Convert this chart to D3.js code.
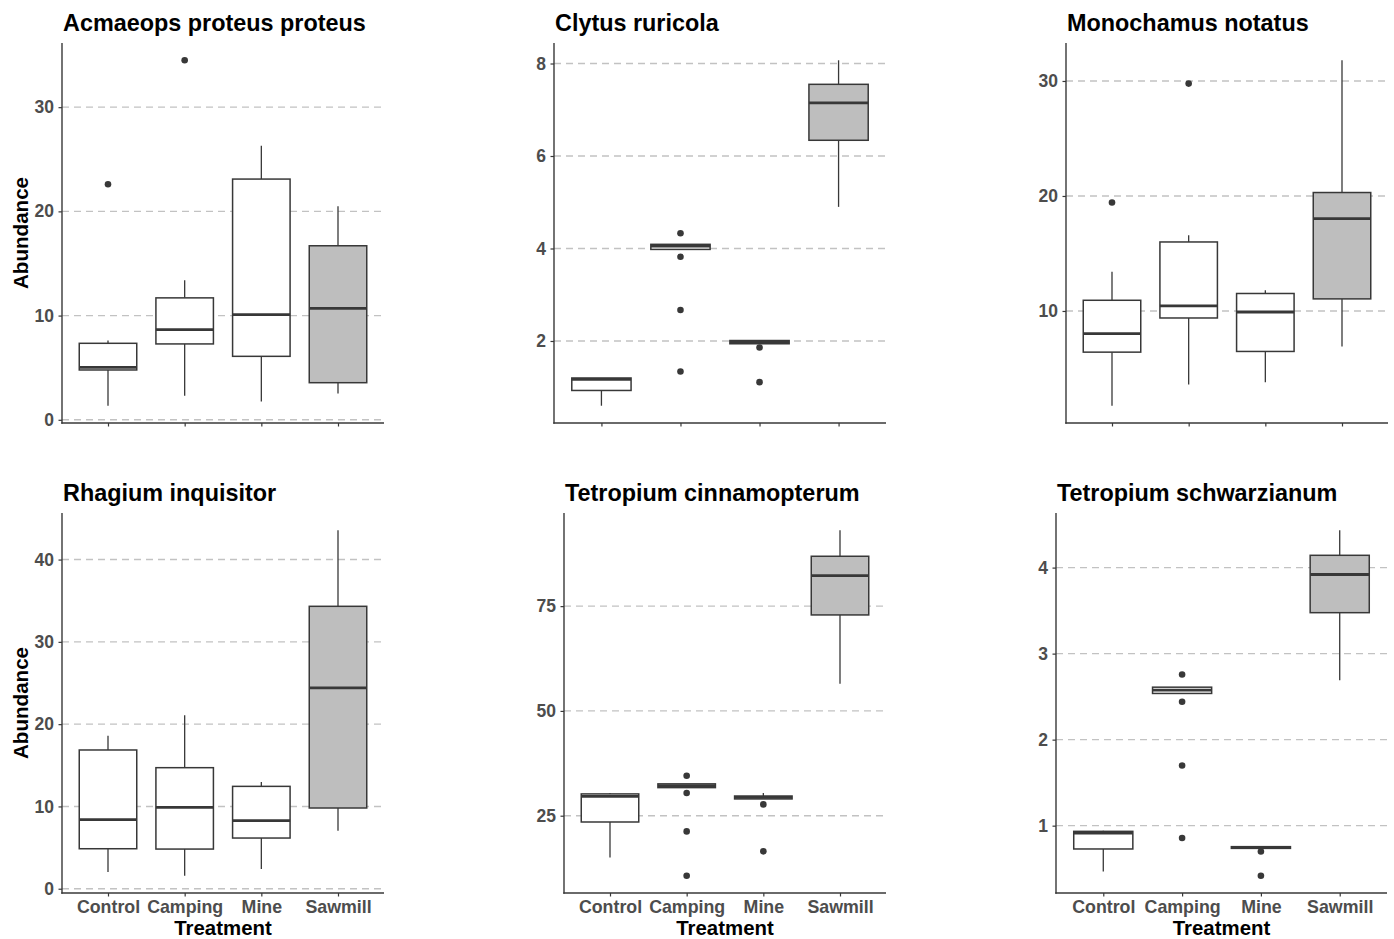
<!DOCTYPE html>
<html>
<head>
<meta charset="utf-8">
<script src="https://cdn.jsdelivr.net/npm/d3@7"></script>
<style>
  html, body { margin: 0; padding: 0; background: #fff; }
  svg { display: block; }
  text { font-family: "Liberation Sans", Arial, Helvetica, sans-serif; font-weight: bold; }
</style>
</head>
<body>
<svg id="chart" width="1394" height="939"></svg>
<script>
// ---------------- DATA ----------------
const treatments = ["Control", "Camping", "Mine", "Sawmill"];
const species = [
  "Acmaeops proteus proteus", "Clytus ruricola", "Monochamus notatus",
  "Rhagium inquisitor", "Tetropium cinnamopterum", "Tetropium schwarzianum"
];
const yTickValues = [
  [0, 10, 20, 30],
  [2, 4, 6, 8],
  [10, 20, 30],
  [0, 10, 20, 30, 40],
  [25, 50, 75],
  [1, 2, 3, 4]
];
// per species, per treatment (Control, Camping, Mine, Sawmill)
const lowerWhisker = [
  [1.35, 2.3, 1.76, 2.53],
  [0.6, 3.98, 1.94, 4.9],
  [1.76, 3.6, 3.8, 6.92],
  [2.03, 1.58, 2.39, 7.05],
  [15.05, 31.7, 29.0, 56.5],
  [0.468, 2.537, 0.736, 2.69]
];
const q1 = [
  [4.78, 7.28, 6.09, 3.56],
  [0.93, 3.98, 1.94, 6.34],
  [6.42, 9.39, 6.48, 11.05],
  [4.86, 4.82, 6.16, 9.81],
  [23.5, 31.7, 29.0, 72.9],
  [0.729, 2.537, 0.736, 3.476]
];
const median = [
  [5.03, 8.65, 10.1, 10.7],
  [1.17, 4.05, 1.97, 7.15],
  [8.03, 10.44, 9.91, 18.03],
  [8.39, 9.89, 8.27, 24.4],
  [29.6, 32.2, 29.35, 82.3],
  [0.915, 2.575, 0.745, 3.92]
];
const q3 = [
  [7.34, 11.7, 23.1, 16.7],
  [1.2, 4.09, 2.01, 7.55],
  [10.93, 16.0, 11.52, 20.3],
  [16.86, 14.71, 12.44, 34.32],
  [30.2, 32.6, 29.7, 86.9],
  [0.934, 2.61, 0.756, 4.143]
];
const upperWhisker = [
  [7.6, 13.4, 26.3, 20.5],
  [1.2, 4.09, 2.01, 8.07],
  [13.4, 16.58, 11.8, 31.8],
  [18.6, 21.07, 12.97, 43.56],
  [30.4, 32.6, 30.4, 93.1],
  [0.94, 2.61, 0.756, 4.434]
];
const outliers = [
  [[22.6], [34.5], [], []],
  [[], [4.33, 3.82, 2.67, 1.34], [1.86, 1.11], []],
  [[19.43], [29.77], [], []],
  [[], [], [], []],
  [[], [34.55, 30.4, 21.25, 10.68], [27.7, 16.5], []],
  [[], [2.758, 2.44, 1.70, 0.857], [0.70, 0.418], []]
];

// ---------------- LAYOUT ----------------
const panelRects = [
  { l: 62,   t: 43,  r: 384,  b: 423 },
  { l: 554,  t: 43,  r: 886,  b: 423 },
  { l: 1066, t: 43,  r: 1388, b: 423 },
  { l: 62,   t: 513, r: 384,  b: 893 },
  { l: 564,  t: 513, r: 886,  b: 893 },
  { l: 1056, t: 513, r: 1387, b: 893 }
];

const svg = d3.select("#chart");
const fillScale = d3.scaleOrdinal(treatments, ["#ffffff", "#ffffff", "#ffffff", "#bebebe"]);
const dark = "#383838";
const FONT = '"Liberation Sans", Arial, Helvetica, sans-serif';

species.forEach((name, si) => {
  const R = panelRects[si];
  const row = si < 3 ? 0 : 1;
  const col = si % 3;
  const g = svg.append("g");

  // y scale with 5% expansion of the data range (ggplot style)
  const allVals = [].concat(lowerWhisker[si], upperWhisker[si], ...outliers[si]);
  const [mn, mx] = d3.extent(allVals);
  const pad = (mx - mn) * 0.05;
  const y = d3.scaleLinear().domain([mn - pad, mx + pad]).range([R.b, R.t]);

  // discrete x scale with 0.6-unit expansion on each side
  const step = (R.r - R.l) / 4.2;
  const x = d3.scalePoint().domain(treatments)
    .range([R.l + step * 0.6, R.r - step * 0.6]);
  const boxW = step * 0.75;

  // gridlines
  g.append("g").selectAll("line").data(yTickValues[si]).join("line")
    .attr("x1", R.l).attr("x2", R.r)
    .attr("y1", d => y(d)).attr("y2", d => y(d))
    .attr("stroke", "#c2c2c2").attr("stroke-width", 1.4)
    .attr("stroke-dasharray", "7,5");

  // y axis
  const yAxis = d3.axisLeft(y).tickValues(yTickValues[si]).tickSize(3.5).tickPadding(4.5)
    .tickFormat(d3.format("d"));
  const ya = g.append("g").attr("transform", `translate(${R.l},0)`).call(yAxis);
  ya.select(".domain").remove();
  ya.selectAll(".tick line").attr("stroke", dark).attr("stroke-width", 1.2);
  ya.selectAll(".tick text").attr("fill", "#4d4d4d").attr("font-size", 17.5)
    .attr("font-family", FONT).attr("font-weight", "bold");

  // x axis
  const xAxis = d3.axisBottom(x).tickSize(3.5).tickPadding(4);
  if (row === 0) xAxis.tickFormat("");
  const xa = g.append("g").attr("transform", `translate(0,${R.b})`).call(xAxis);
  xa.select(".domain").remove();
  xa.selectAll(".tick line").attr("stroke", dark).attr("stroke-width", 1.2);
  xa.selectAll(".tick text").attr("fill", "#4d4d4d").attr("font-size", 17.8)
    .attr("font-family", FONT).attr("font-weight", "bold")
    .attr("dy", "0.71em");

  // axis lines
  g.append("line").attr("x1", R.l).attr("x2", R.l).attr("y1", R.t).attr("y2", R.b + 0.7)
    .attr("stroke", dark).attr("stroke-width", 1.4);
  g.append("line").attr("x1", R.l - 0.7).attr("x2", R.r).attr("y1", R.b).attr("y2", R.b)
    .attr("stroke", dark).attr("stroke-width", 1.4);

  // boxplots
  treatments.forEach((t, ti) => {
    const c = x(t);
    const bg = g.append("g");
    bg.append("line").attr("x1", c).attr("x2", c)
      .attr("y1", y(upperWhisker[si][ti])).attr("y2", y(q3[si][ti]))
      .attr("stroke", dark).attr("stroke-width", 1.3);
    bg.append("line").attr("x1", c).attr("x2", c)
      .attr("y1", y(q1[si][ti])).attr("y2", y(lowerWhisker[si][ti]))
      .attr("stroke", dark).attr("stroke-width", 1.3);
    bg.append("rect")
      .attr("x", c - boxW / 2).attr("width", boxW)
      .attr("y", y(q3[si][ti])).attr("height", Math.max(0.5, y(q1[si][ti]) - y(q3[si][ti])))
      .attr("fill", fillScale(t)).attr("stroke", dark).attr("stroke-width", 1.5);
    bg.append("line").attr("x1", c - boxW / 2).attr("x2", c + boxW / 2)
      .attr("y1", y(median[si][ti])).attr("y2", y(median[si][ti]))
      .attr("stroke", dark).attr("stroke-width", 2.8);
    bg.selectAll("circle").data(outliers[si][ti]).join("circle")
      .attr("cx", c).attr("cy", d => y(d)).attr("r", 3.3).attr("fill", dark);
  });

  // title
  g.append("text").attr("x", R.l + 1).attr("y", R.t - 12)
    .attr("font-size", 23.4).attr("fill", "#000").text(name);

  // axis titles
  if (col === 0) {
    g.append("text")
      .attr("transform", `translate(28,${(R.t + R.b) / 2}) rotate(-90)`)
      .attr("text-anchor", "middle").attr("font-size", 20.6).attr("fill", "#000")
      .text("Abundance");
  }
  if (row === 1) {
    g.append("text").attr("x", (R.l + R.r) / 2).attr("y", 935)
      .attr("text-anchor", "middle").attr("font-size", 20.4).attr("fill", "#000")
      .text("Treatment");
  }
});
</script>
</body>
</html>
